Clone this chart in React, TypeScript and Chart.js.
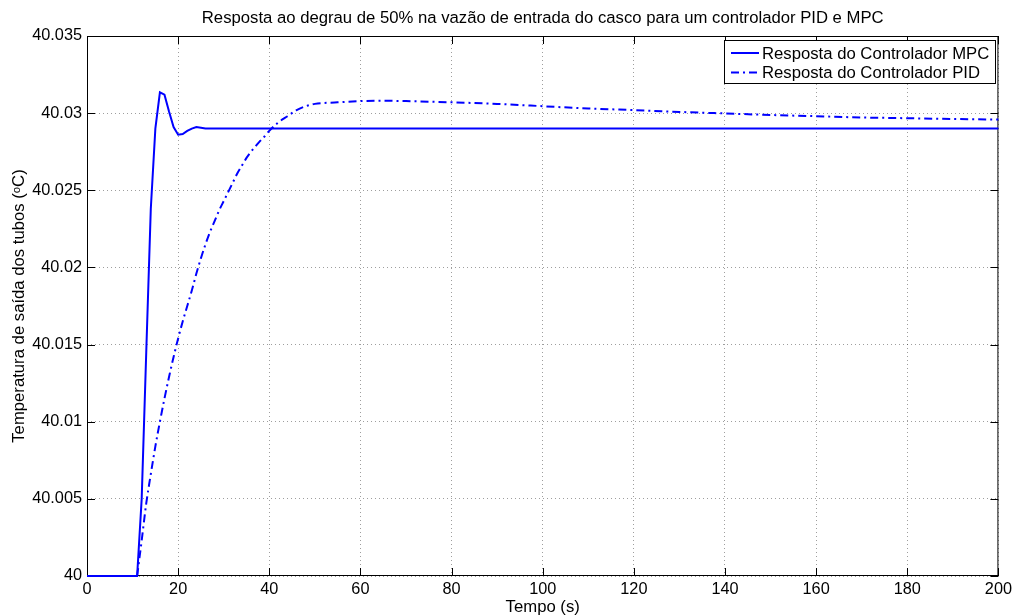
import React, { useEffect, useRef } from 'react';
import { Chart, registerables } from 'chart.js';

Chart.register(...registerables);

// Text
const chartTitle = 'Resposta ao degrau de 50% na vazão de entrada do casco para um controlador PID e MPC';
const xAxisTitle = 'Tempo (s)';
const yAxisTitle = 'Temperatura de saída dos tubos (ᵒC)';
const mpcLabel = 'Resposta do Controlador MPC';
const pidLabel = 'Resposta do Controlador PID';

// Axis ticks
const xTickValues = [0, 20, 40, 60, 80, 100, 120, 140, 160, 180, 200];
const yTickValues = [40, 40.005, 40.01, 40.015, 40.02, 40.025, 40.03, 40.035];
const yTickLabels = ['40', '40.005', '40.01', '40.015', '40.02', '40.025', '40.03', '40.035'];

// MPC controller response (time in s, temperature in °C)
const mpcTime = [0, 11, 12, 13, 14, 15, 16, 17, 18, 19, 20, 21, 22, 23, 24, 25, 26, 200];
const mpcTemp = [
  40, 40, 40.005, 40.0145, 40.0238, 40.029, 40.03135, 40.0312, 40.0301, 40.0291,
  40.0286, 40.02865, 40.02885, 40.029, 40.0291, 40.02905, 40.029, 40.029,
];

// PID controller response (time in s, temperature in °C)
const pidTime = [
  11, 12, 13, 14, 15, 16, 17, 18, 19, 20, 21, 22, 23, 24, 25, 26, 27, 28, 29, 30,
  31, 32, 33, 34, 35, 36, 37, 38, 39, 40, 42, 44, 46, 48, 50, 55, 60, 65, 70, 80,
  90, 100, 110, 120, 130, 140, 150, 160, 170, 180, 190, 200,
];
const pidTemp = [
  40, 40.0023, 40.0047, 40.0066, 40.0084, 40.01, 40.0115, 40.0129, 40.0142, 40.0154,
  40.0165, 40.0175, 40.0185, 40.0196, 40.0206, 40.0215, 40.0223, 40.023, 40.0237, 40.0243,
  40.0249, 40.0255, 40.0261, 40.0266, 40.0271, 40.0275, 40.02785, 40.0282, 40.0285, 40.02885,
  40.0294, 40.0298, 40.0302, 40.03045, 40.0306, 40.0307, 40.03078, 40.0308, 40.03078, 40.0307,
  40.0306, 40.03045, 40.0303, 40.0302, 40.03008, 40.02998, 40.02988, 40.0298, 40.02972, 40.02967,
  40.02962, 40.02958,
];

const FONT = "'Liberation Sans', Arial, Helvetica, sans-serif";
const LABEL_SIZE = 16.7;
const TICK_SIZE = 16.3;
const BLUE = '#0000ff';
const PID_DASH = [8, 4, 2, 4];

const matlabDecor = {
  id: 'matlabDecor',
  beforeDatasetsDraw(chart: any) {
    const { ctx, chartArea } = chart;
    const { left, right, top, bottom } = chartArea;
    const xs = chart.scales.x;
    const ys = chart.scales.y;
    const tick = 8;
    ctx.save();
    ctx.strokeStyle = '#000';
    ctx.lineWidth = 1;
    ctx.setLineDash([]);
    ctx.strokeRect(left + 0.5, top + 0.5, right - left - 1, bottom - top - 1);
    ctx.beginPath();
    for (const v of xTickValues) {
      const px = Math.round(xs.getPixelForValue(v)) + 0.5;
      ctx.moveTo(px, bottom);
      ctx.lineTo(px, bottom - tick);
      ctx.moveTo(px, top);
      ctx.lineTo(px, top + tick);
    }
    for (const v of yTickValues) {
      const py = Math.round(ys.getPixelForValue(v)) + 0.5;
      ctx.moveTo(left, py);
      ctx.lineTo(left + tick, py);
      ctx.moveTo(right, py);
      ctx.lineTo(right - tick, py);
    }
    ctx.stroke();
    ctx.restore();
  },
  afterDraw(chart: any) {
    const { ctx, chartArea } = chart;
    const { left, right, top, bottom } = chartArea;
    ctx.save();
    ctx.fillStyle = '#000';
    ctx.font = `${LABEL_SIZE}px ${FONT}`;

    // title
    ctx.textAlign = 'center';
    ctx.textBaseline = 'alphabetic';
    ctx.fillText(chartTitle, (left + right) / 2, 23);

    // x axis title
    ctx.fillText(xAxisTitle, (left + right) / 2, 612);

    // y axis title
    ctx.save();
    ctx.translate(24, (top + bottom) / 2);
    ctx.rotate(-Math.PI / 2);
    ctx.textBaseline = 'alphabetic';
    ctx.fillText(yAxisTitle, 0, 0);
    ctx.restore();

    // legend
    const lx = 724;
    const ly = 40;
    const lw = 271;
    const lh = 43;
    ctx.fillStyle = '#fff';
    ctx.fillRect(lx, ly, lw, lh);
    ctx.strokeStyle = '#000';
    ctx.lineWidth = 1;
    ctx.strokeRect(lx + 0.5, ly + 0.5, lw, lh);

    const rows = [
      { label: mpcLabel, dash: [] as number[], y: 53 },
      { label: pidLabel, dash: PID_DASH, y: 72.5 },
    ];
    for (const r of rows) {
      ctx.strokeStyle = BLUE;
      ctx.lineWidth = 2;
      ctx.setLineDash(r.dash);
      ctx.beginPath();
      ctx.moveTo(731, r.y);
      ctx.lineTo(759, r.y);
      ctx.stroke();
      ctx.setLineDash([]);
      ctx.fillStyle = '#000';
      ctx.textAlign = 'left';
      ctx.textBaseline = 'middle';
      ctx.fillText(r.label, 762, r.y + 1);
    }
    ctx.restore();
  },
};

export default function App() {
  const canvasRef = useRef<HTMLCanvasElement>(null);

  useEffect(() => {
    const canvas = canvasRef.current;
    if (!canvas) return;

    const mpcPoints = mpcTime.map((t, i) => ({ x: t, y: mpcTemp[i] }));
    const pidPoints = pidTime.map((t, i) => ({ x: t, y: pidTemp[i] }));

    const chart = new Chart(canvas, {
      type: 'line',
      data: {
        datasets: [
          {
            label: mpcLabel,
            data: mpcPoints,
            borderColor: BLUE,
            borderWidth: 2,
            pointRadius: 0,
            tension: 0,
            fill: false,
            clip: false,
          },
          {
            label: pidLabel,
            data: pidPoints,
            borderColor: BLUE,
            borderWidth: 2,
            borderDash: PID_DASH,
            pointRadius: 0,
            cubicInterpolationMode: 'monotone',
            fill: false,
            clip: false,
          },
        ],
      },
      options: {
        responsive: false,
        animation: false,
        devicePixelRatio: 1,
        layout: { padding: { top: 36, right: 17, left: 0, bottom: 0 } },
        plugins: {
          legend: { display: false },
          title: { display: false },
          tooltip: { enabled: false },
        },
        scales: {
          x: {
            type: 'linear',
            min: 0,
            max: 200,
            afterBuildTicks: (scale: any) => {
              scale.ticks = xTickValues.map((v) => ({ value: v }));
            },
            afterFit: (scale: any) => {
              scale.height = 40;
            },
            ticks: {
              color: '#000',
              font: { family: FONT, size: TICK_SIZE },
              padding: 4,
              maxRotation: 0,
              autoSkip: false,
              callback: (v: any) => String(v),
            },
            grid: {
              color: 'rgba(0,0,0,0.38)',
              lineWidth: 1,
              drawTicks: false,
            },
            border: { display: false, dash: [1, 3] },
          },
          y: {
            type: 'linear',
            min: 40,
            max: 40.035,
            afterBuildTicks: (scale: any) => {
              scale.ticks = yTickValues.map((v) => ({ value: v }));
            },
            afterFit: (scale: any) => {
              scale.width = 87;
            },
            ticks: {
              color: '#000',
              font: { family: FONT, size: TICK_SIZE },
              padding: 5,
              autoSkip: false,
              callback: (_v: any, i: number) => yTickLabels[i],
            },
            grid: {
              color: 'rgba(0,0,0,0.38)',
              lineWidth: 1,
              drawTicks: false,
            },
            border: { display: false, dash: [1, 3] },
          },
        },
      },
      plugins: [matlabDecor],
    } as any);

    return () => chart.destroy();
  }, []);

  return (
    <div style={{ position: 'fixed', left: 0, top: 0, width: 1016, height: 616, background: '#fff' }}>
      <canvas ref={canvasRef} width={1016} height={616} style={{ display: 'block' }} />
    </div>
  );
}
